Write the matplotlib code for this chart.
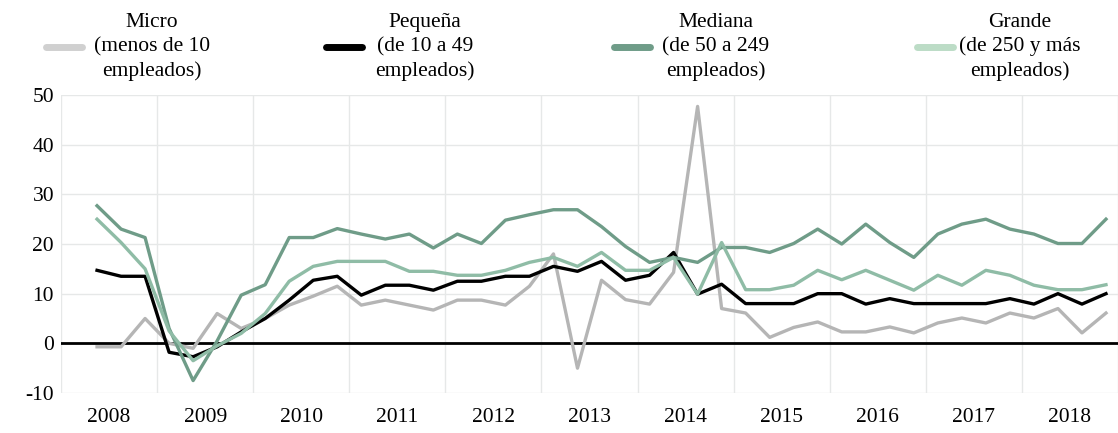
import numpy as np
import matplotlib
matplotlib.use('Agg')
import matplotlib.pyplot as plt
from matplotlib.lines import Line2D

# trimestres 2008T2 - 2018T4
years = list(range(2008, 2019))
n_quarters = 43

micro = [-0.7, -0.7, 5.0, 0.0, -1.0, 6.0, 3.0, 5.0, 7.7, 9.5, 11.5,
         7.7, 8.7, 7.7, 6.7, 8.7, 8.7, 7.7, 11.5, 18.0, -5.0,
         12.7, 8.8, 7.9, 14.3, 47.7, 7.0, 6.1, 1.2, 3.2, 4.3,
         2.3, 2.3, 3.3, 2.1, 4.1, 5.1, 4.1, 6.1, 5.1, 7.0, 2.1, 6.1]
pequena = [14.7, 13.5, 13.5, -1.8, -2.7, -0.7, 2.3, 5.0, 8.7, 12.7, 13.5,
           9.7, 11.7, 11.7, 10.7, 12.5, 12.5, 13.5, 13.5, 15.5, 14.5,
           16.5, 12.7, 13.7, 18.3, 9.9, 11.9, 8.0, 8.0, 8.0, 10.0,
           10.0, 7.9, 9.0, 8.0, 8.0, 8.0, 8.0, 9.0, 7.9, 10.0, 7.9, 10.0]
mediana = [27.7, 23.0, 21.3, 3.0, -7.5, 0.5, 9.7, 11.8, 21.3, 21.3, 23.1,
           22.0, 21.0, 22.0, 19.2, 22.0, 20.1, 24.8, 25.9, 26.9, 26.9,
           23.5, 19.5, 16.3, 17.3, 16.3, 19.3, 19.3, 18.3, 20.1, 23.0,
           20.0, 24.0, 20.3, 17.3, 22.0, 24.0, 25.0, 23.0, 22.0, 20.1, 20.1, 25.0]
grande = [25.0, 20.3, 15.0, 2.5, -3.5, -0.5, 2.0, 6.0, 12.5, 15.5, 16.5,
          16.5, 16.5, 14.5, 14.5, 13.7, 13.7, 14.7, 16.3, 17.3, 15.5,
          18.3, 14.7, 14.7, 17.3, 9.9, 20.3, 10.8, 10.8, 11.7, 14.7,
          12.8, 14.7, 12.7, 10.7, 13.7, 11.7, 14.7, 13.7, 11.7, 10.8, 10.8, 11.8]

series = [micro, pequena, mediana, grande]
labels = ['Micro\n(menos de 10\nempleados)',
          'Pequeña\n(de 10 a 49\nempleados)',
          'Mediana\n(de 50 a 249\nempleados)',
          'Grande\n(de 250 y más\nempleados)']
colors = ['#b5b5b5', '#000000', '#6f9c88', '#8fbca6']
legend_colors = ['#d0d0d0', '#000000', '#6f9c88', '#bcdcc6']

plt.rcParams['font.family'] = 'Liberation Serif'
plt.rcParams['axes.unicode_minus'] = False

fig = plt.figure(figsize=(11.18, 4.33), dpi=100)
ax = fig.add_axes([61 / 1118, 1 - 393 / 433, 1 - 61 / 1118, (393 - 95) / 433])

x = np.arange(n_quarters) + 1.5
for s, c in zip(series, colors):
    ax.plot(x, s, color=c, lw=2.4, zorder=3)

ax.axhline(0, color='black', lw=2, zorder=2)
ax.set_xlim(0, 44)
ax.set_ylim(-10, 50)
ax.set_yticks(range(-10, 51, 10))
ax.set_xticks(np.arange(0, 45, 4))
ax.set_xticks(np.arange(2, 44, 4), minor=True)
ax.set_xticklabels([])
ax.set_xticklabels([str(y) for y in years], minor=True)
ax.tick_params(axis='both', which='both', length=0, labelsize=15.5)
ax.tick_params(axis='x', which='minor', pad=11)
ax.tick_params(axis='y', pad=5)
ax.grid(True, which='major', color='#e6e8e8', lw=1)
for sp in ax.spines.values():
    sp.set_visible(False)

# leyenda manual arriba
handle_x = [46, 326, 614, 917]
text_x = [152, 425, 716, 1020]
for hx, tx, lab, c in zip(handle_x, text_x, labels, legend_colors):
    fig.add_artist(Line2D([hx / 1118, (hx + 36) / 1118], [1 - 47 / 433] * 2,
                          color=c, lw=5, solid_capstyle='round'))
    fig.text(tx / 1118, 1 - 47 / 433, lab, ha='center', va='center',
             multialignment='center', fontsize=15.5, linespacing=1.34)

fig.savefig('out.png', dpi=100)
